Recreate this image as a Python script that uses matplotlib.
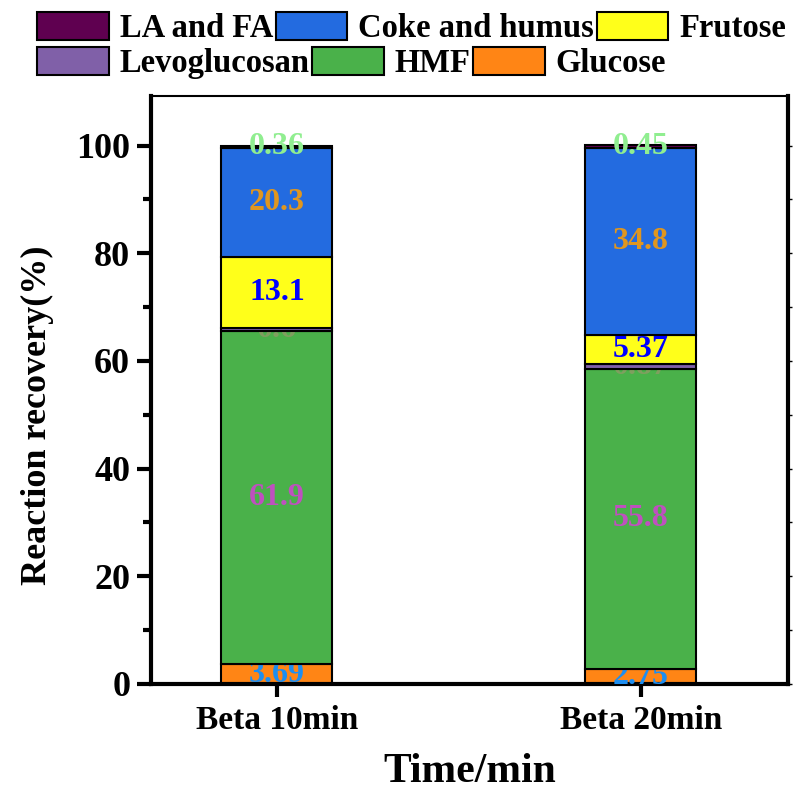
import matplotlib
matplotlib.use("Agg")
import matplotlib.pyplot as plt
from matplotlib.patches import Patch
import numpy as np

plt.rcParams['font.family'] = ['Liberation Serif', 'DejaVu Serif']
plt.rcParams['font.weight'] = 'bold'

categories = ["Beta 10min", "Beta 20min"]
series_names = ["Glucose", "HMF", "Levoglucosan", "Frutose", "Coke and humus", "LA and FA"]
glucose = [3.69, 2.75]
hmf = [61.9, 55.8]
levoglucosan = [0.6, 0.87]
frutose = [13.1, 5.37]
coke = [20.3, 34.8]
la_fa = [0.36, 0.45]
value_labels = {
    "Glucose": ["3.69", "2.75"],
    "HMF": ["61.9", "55.8"],
    "Levoglucosan": ["0.6", "0.87"],
    "Frutose": ["13.1", "5.37"],
    "Coke and humus": ["20.3", "34.8"],
    "LA and FA": ["0.36", "0.45"],
}
series_values = [glucose, hmf, levoglucosan, frutose, coke, la_fa]
bar_colors = ["#FF8515", "#4AB14A", "#8060A8", "#FFFF1A", "#236BE0", "#5F0050"]
label_colors = ["#1E8EF0", "#BF50BF", "#7F9F5F", "#0000FF", "#E0961F", "#90EE90"]
# labels of the thin Levoglucosan layer sit beneath the bars stacked above
label_under_next = ["Levoglucosan"]

fig = plt.figure(figsize=(8.03, 7.89), dpi=100)
ax = fig.add_axes([151/803, 1-684/789, (788-151)/803, (684-96)/789])

x = np.arange(len(categories))
bottom = np.zeros(len(categories))
handles = {}
for i, (name, vals, col, lcol) in enumerate(zip(series_names, series_values, bar_colors, label_colors)):
    vals = np.array(vals)
    bar_z = 2 + 2 * i
    ax.bar(x, vals, 0.305, bottom=bottom, color=col, edgecolor='black',
           linewidth=1.5, zorder=bar_z)
    handles[name] = col
    lab_z = bar_z - 0.5 if name in label_under_next else bar_z + 1
    for xi, v, bt, lab in zip(x, vals, bottom, value_labels[name]):
        ax.text(xi, bt + v/2, lab, ha='center', va='center', color=lcol,
                fontsize=23, fontweight='bold', zorder=lab_z, clip_on=True)
    bottom += vals

ax.set_xlim(-0.346, 1.404)
ax.set_ylim(0, 109.2)
ax.set_xticks(x)
ax.set_xticklabels(categories, fontsize=24, fontweight='bold')
ax.set_yticks([0, 20, 40, 60, 80, 100])
ax.set_yticks([10, 30, 50, 70, 90], minor=True)
ax.tick_params(axis='y', labelsize=26, width=3, length=10, direction='out', pad=5)
ax.tick_params(axis='y', which='minor', width=3, length=6, direction='out')
ax.tick_params(axis='x', width=3, length=9, direction='out', pad=6)
for s in ['left', 'bottom', 'right']:
    ax.spines[s].set_linewidth(3)
ax.spines['top'].set_linewidth(1.5)

sec = ax.secondary_yaxis('right')
sec.set_yticks([0, 20, 40, 60, 80, 100])
sec.set_yticks([10, 30, 50, 70, 90], minor=True)
sec.tick_params(axis='y', which='both', length=3, width=1, labelright=False)
sec.spines['right'].set_visible(False)

ax.set_xlabel("Time/min", fontsize=30, fontweight='bold', labelpad=12)
ax.set_ylabel("Reaction recovery(%)", fontsize=26, fontweight='bold')
ax.yaxis.set_label_coords(-0.152, 0.457)

def mk(name):
    return Patch(facecolor=handles[name], edgecolor='black', linewidth=1.5, label=name)

row1 = ["LA and FA", "Coke and humus", "Frutose"]
row2 = ["Levoglucosan", "HMF", "Glucose"]
common = dict(ncol=3, frameon=False, handlelength=2.2, handleheight=0.95,
              handletextpad=0.33, columnspacing=0.08, borderaxespad=0, borderpad=0,
              prop={'weight': 'bold', 'size': 23.5})
fig.legend(handles=[mk(n) for n in row1], loc='center left',
           bbox_to_anchor=(37/803, 1-28/789), **common)
fig.legend(handles=[mk(n) for n in row2], loc='center left',
           bbox_to_anchor=(37/803, 1-63/789), **common)

fig.savefig("out.png", dpi=100)
